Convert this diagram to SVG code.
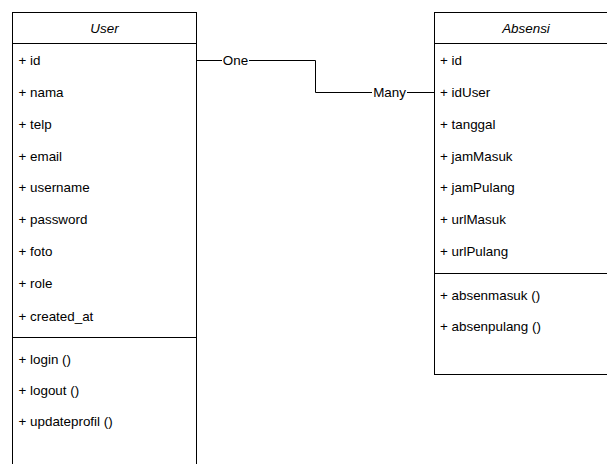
<svg xmlns="http://www.w3.org/2000/svg" width="607" height="464" viewBox="0 0 607 464">
<style>
.box{fill:#fff;stroke:#000;stroke-width:1}
.ln{fill:none;stroke:#000;stroke-width:1}
text{font-family:"Liberation Sans",Arial,sans-serif;font-size:13.4px;fill:#000}
.t{font-style:italic;text-anchor:middle}
.lbl{text-anchor:middle}
</style>
<rect width="607" height="464" fill="#fff"/>
<g id="User">
<rect class="box" x="12.5" y="12.5" width="184" height="470"/>
<line class="ln" x1="12.5" y1="43.5" x2="196.5" y2="43.5"/>
<line class="ln" x1="12.5" y1="337.5" x2="196.5" y2="337.5"/>
<text class="t" x="104.5" y="33">User</text>
<text x="18.5" y="65">+ id</text>
<text x="18.5" y="97">+ nama</text>
<text x="18.5" y="129">+ telp</text>
<text x="18.5" y="161">+ email</text>
<text x="18.5" y="192">+ username</text>
<text x="18.5" y="224">+ password</text>
<text x="18.5" y="256">+ foto</text>
<text x="18.5" y="288">+ role</text>
<text x="18.5" y="321">+ created_at</text>
<text x="18.5" y="364">+ login ()</text>
<text x="18.5" y="395">+ logout ()</text>
<text x="18.5" y="426">+ updateprofil ()</text>
</g>
<g id="Absensi">
<rect class="box" x="434.5" y="12.5" width="184" height="362"/>
<line class="ln" x1="434.5" y1="43.5" x2="618.5" y2="43.5"/>
<line class="ln" x1="434.5" y1="273.5" x2="618.5" y2="273.5"/>
<text class="t" x="526" y="33">Absensi</text>
<text x="440" y="65">+ id</text>
<text x="440" y="97">+ idUser</text>
<text x="440" y="129">+ tanggal</text>
<text x="440" y="161">+ jamMasuk</text>
<text x="440" y="192">+ jamPulang</text>
<text x="440" y="224">+ urlMasuk</text>
<text x="440" y="256">+ urlPulang</text>
<text x="440" y="300">+ absenmasuk ()</text>
<text x="440" y="331">+ absenpulang ()</text>
</g>
<g id="connectors">
<polyline class="ln" points="196.5,60.5 315.5,60.5 315.5,92.5 434.5,92.5"/>
<rect x="222" y="53" width="27" height="15" fill="#fff"/>
<text class="lbl" x="235.5" y="65">One</text>
<rect x="372" y="85" width="35" height="15" fill="#fff"/>
<text class="lbl" x="389.5" y="97">Many</text>
</g>
</svg>
